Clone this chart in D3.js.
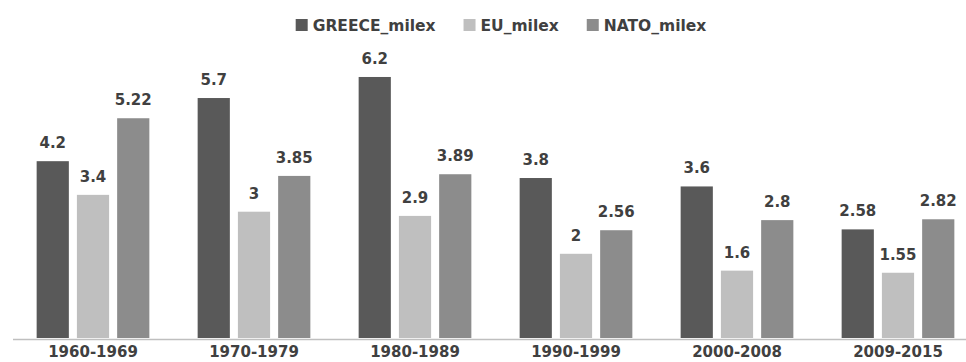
<!DOCTYPE html>
<html>
<head>
<meta charset="utf-8">
<script src="https://cdn.jsdelivr.net/npm/d3@7/dist/d3.min.js"></script>
<style>
  html, body { margin: 0; padding: 0; background: #fff; }
  svg { display: block; }
  text { font-family: "DejaVu Sans", Verdana, sans-serif; }
</style>
</head>
<body>
<svg id="chart" width="966" height="362"></svg>
<script>
// Military expenditure (% of GDP), decade averages
const periods = ["1960-1969", "1970-1979", "1980-1989", "1990-1999", "2000-2008", "2009-2015"];
const seriesNames = ["GREECE_milex", "EU_milex", "NATO_milex"];
const greece = [4.2, 5.7, 6.2, 3.8, 3.6, 2.58];
const eu = [3.4, 3, 2.9, 2, 1.6, 1.55];
const nato = [5.22, 3.85, 3.89, 2.56, 2.8, 2.82];
const seriesColors = ["#595959", "#bfbfbf", "#8c8c8c"];

const values = [greece, eu, nato];
const rows = periods.map((p, i) => ({
  period: p,
  items: seriesNames.map((s, j) => ({ series: s, value: values[j][i] }))
}));

const W = 966, H = 362;
const baseY = 338;
const svg = d3.select("#chart");

const x0 = d3.scaleBand()
  .domain(periods)
  .range([12.5, 978.5])
  .paddingInner(0.3)
  .paddingOuter(0.15);

const x1 = d3.scaleBand()
  .domain(seriesNames)
  .range([0, x0.bandwidth()])
  .paddingInner(0.2);

const y = d3.scaleLinear().domain([0, 1]).range([baseY, baseY - 42.1]);

const color = d3.scaleOrdinal().domain(seriesNames).range(seriesColors);

// bars and value labels
const groups = svg.append("g").selectAll("g")
  .data(rows)
  .join("g")
  .attr("transform", d => `translate(${x0(d.period)},0)`);

groups.selectAll("rect")
  .data(d => d.items)
  .join("rect")
  .attr("x", d => x1(d.series))
  .attr("width", x1.bandwidth())
  .attr("y", d => y(d.value))
  .attr("height", d => baseY - y(d.value))
  .attr("fill", d => color(d.series));

groups.selectAll("text.val")
  .data(d => d.items)
  .join("text")
  .attr("class", "val")
  .attr("x", d => x1(d.series) + x1.bandwidth() / 2)
  .attr("y", d => y(d.value) - 13)
  .attr("text-anchor", "middle")
  .attr("font-size", 15)
  .attr("font-weight", "bold")
  .attr("fill", "#404040")
  .text(d => d.value);

// category axis
const xAxis = svg.append("g")
  .attr("transform", `translate(0,${baseY})`)
  .call(d3.axisBottom(x0).tickSize(0).tickPadding(8));
xAxis.select(".domain").attr("stroke", "#bfbfbf").attr("stroke-width", 1.5)
  .attr("transform", "translate(0,1)");
xAxis.selectAll("text")
  .attr("font-size", 15)
  .attr("font-weight", "bold")
  .attr("fill", "#404040")
  .style("font-family", "'DejaVu Sans', Verdana, sans-serif");

// legend
const legend = svg.append("g");
const items = legend.selectAll("g")
  .data(seriesNames)
  .join("g");
items.append("rect")
  .attr("width", 12).attr("height", 12)
  .attr("y", 19)
  .attr("fill", d => color(d));
items.append("text")
  .attr("x", 17)
  .attr("y", 30.5)
  .attr("font-size", 15.5)
  .attr("font-weight", "bold")
  .attr("fill", "#404040")
  .text(d => d);

let cx = 0;
const gap = 28;
items.each(function () {
  const w = this.getBBox().width;
  d3.select(this).attr("transform", `translate(${cx},0)`);
  cx += w + gap;
});
const total = cx - gap;
legend.attr("transform", `translate(${501 - total / 2},0)`);
</script>
</body>
</html>
